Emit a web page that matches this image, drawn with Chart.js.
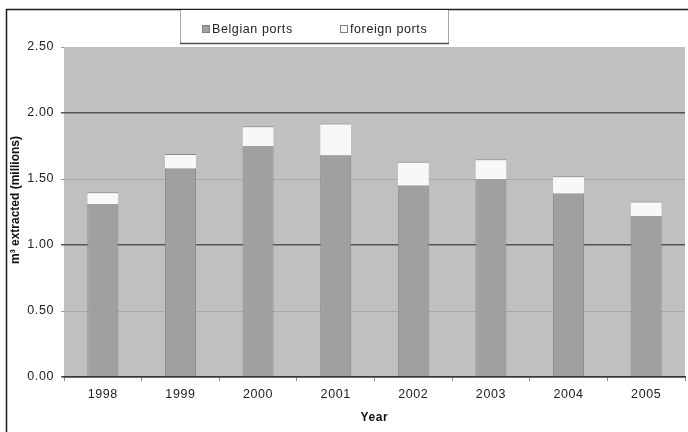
<!DOCTYPE html>
<html>
<head>
<meta charset="utf-8">
<script src="https://cdn.jsdelivr.net/npm/chart.js@4.4.1/dist/chart.umd.min.js"></script>
<style>
  html, body { margin: 0; padding: 0; background: #ffffff; }
  canvas { display: block; }
</style>
</head>
<body>
<canvas id="chart" width="688" height="432"></canvas>
<script>
// Dredged volume per year, split by port of discharge (millions of m³)
const years = ['1998', '1999', '2000', '2001', '2002', '2003', '2004', '2005'];
const belgianPorts = [1.31, 1.58, 1.75, 1.68, 1.45, 1.50, 1.39, 1.22];
const foreignPorts = [0.09, 0.11, 0.15, 0.24, 0.18, 0.15, 0.13, 0.11];
const seriesNames = ['Belgian ports', 'foreign ports'];
const yTickValues = [0, 0.5, 1, 1.5, 2, 2.5];
const yTitle = 'm³ extracted (millions)';
const xTitle = 'Year';

const FONT = "'Liberation Sans', Arial, Helvetica, sans-serif";
const WIDE = '0.6px';

// Grey plot background, outer frame, framed legend and rotated y title
const decorations = {
  id: 'decorations',
  beforeDraw(chart) {
    const { ctx, chartArea: a } = chart;
    ctx.save();
    ctx.fillStyle = '#ffffff';
    ctx.fillRect(0, 0, chart.width, chart.height);
    ctx.fillStyle = '#c0c0c0';
    ctx.fillRect(a.left, a.top, a.right - a.left, a.bottom - a.top);
    ctx.restore();
    // slightly widened lettering for the axis labels
    ctx.letterSpacing = WIDE;
  },
  afterDraw(chart) {
    const { ctx } = chart;
    ctx.save();

    // outer frame (top and left edges)
    ctx.strokeStyle = '#1a1a1a';
    ctx.lineWidth = 1.5;
    ctx.beginPath();
    ctx.moveTo(6.5, chart.height);
    ctx.lineTo(6.5, 9.5);
    ctx.lineTo(chart.width, 9.5);
    ctx.stroke();

    // legend box
    const bx0 = 180, bx1 = 448, by0 = 10, by1 = 43;
    ctx.fillStyle = '#ffffff';
    ctx.fillRect(bx0, by0, bx1 - bx0, by1 - by0);
    ctx.strokeStyle = '#a8a8a8';
    ctx.lineWidth = 1;
    ctx.beginPath();
    ctx.moveTo(bx0 + 0.5, by0);
    ctx.lineTo(bx0 + 0.5, by1);
    ctx.moveTo(bx1 + 0.5, by0);
    ctx.lineTo(bx1 + 0.5, by1);
    ctx.stroke();
    ctx.strokeStyle = '#505050';
    ctx.lineWidth = 1.5;
    ctx.beginPath();
    ctx.moveTo(bx0, by1 + 0.5);
    ctx.lineTo(bx1 + 1, by1 + 0.5);
    ctx.stroke();

    // legend entries
    const itemX = [202, 340];
    ctx.letterSpacing = WIDE;
    ctx.font = '12.5px ' + FONT;
    ctx.textBaseline = 'middle';
    ctx.textAlign = 'left';
    chart.data.datasets.forEach((ds, i) => {
      const x = itemX[i];
      ctx.fillStyle = ds.backgroundColor;
      ctx.fillRect(x, 25.5, 7, 7);
      ctx.strokeStyle = '#808080';
      ctx.lineWidth = 1;
      ctx.strokeRect(x + 0.5, 25.5, 7, 7);
      ctx.fillStyle = '#222222';
      ctx.fillText(ds.label, x + 10, 29.5);
    });

    // y axis title
    ctx.letterSpacing = '0px';
    ctx.translate(16, 200);
    ctx.rotate(-Math.PI / 2);
    ctx.font = 'bold 12px ' + FONT;
    ctx.fillStyle = '#111111';
    ctx.textAlign = 'center';
    ctx.textBaseline = 'middle';
    ctx.fillText(yTitle, 0, 0);
    ctx.restore();
    ctx.letterSpacing = '0px';
  }
};

const gridColor = (ctx) => {
  const v = ctx.tick ? ctx.tick.value : null;
  if (v === 2.5) return 'rgba(0,0,0,0)';
  return Number.isInteger(v) ? '#555555' : '#a9a9a9';
};
const tickMarkColor = (ctx) => {
  const v = ctx.tick ? ctx.tick.value : null;
  return Number.isInteger(v) ? '#555555' : '#9a9a9a';
};

new Chart(document.getElementById('chart'), {
  type: 'bar',
  data: {
    labels: years,
    datasets: [
      {
        label: seriesNames[0],
        data: belgianPorts,
        backgroundColor: '#a0a0a0',
        borderColor: '#8a8a8a',
        borderWidth: { left: 1, right: 1, top: 0, bottom: 0 },
        borderSkipped: false,
        categoryPercentage: 1,
        barPercentage: 0.4
      },
      {
        label: seriesNames[1],
        data: foreignPorts,
        backgroundColor: '#f8f8f8',
        borderColor: '#8a8a8a',
        borderWidth: { left: 0, right: 0, top: 1, bottom: 0 },
        borderSkipped: false,
        categoryPercentage: 1,
        barPercentage: 0.4
      }
    ]
  },
  options: {
    responsive: false,
    animation: false,
    devicePixelRatio: 1,
    layout: { padding: { left: 7, top: 47, right: 3, bottom: 0 } },
    plugins: {
      legend: { display: false },
      tooltip: { enabled: false }
    },
    scales: {
      x: {
        stacked: true,
        afterFit: (s) => { s.height = 55; },
        border: { display: true, color: '#333333', width: 1.5 },
        grid: {
          display: true,
          drawOnChartArea: false,
          drawTicks: true,
          tickLength: 4,
          color: '#8a8a8a'
        },
        ticks: {
          color: '#222222',
          font: { family: FONT, size: 12.5 },
          padding: 6,
          maxRotation: 0
        },
        title: {
          display: true,
          text: xTitle,
          color: '#111111',
          font: { family: FONT, size: 12, weight: 'bold' },
          padding: { top: 7, bottom: 7 }
        }
      },
      y: {
        stacked: true,
        min: 0,
        max: 2.5,
        afterFit: (s) => { s.width = 57; },
        afterBuildTicks: (s) => { s.ticks = yTickValues.map((v) => ({ value: v })); },
        border: { display: false },
        grid: {
          color: gridColor,
          tickColor: tickMarkColor,
          lineWidth: (ctx) => (ctx.tick && Number.isInteger(ctx.tick.value) ? 1.5 : 1),
          drawTicks: true,
          tickLength: 3
        },
        ticks: {
          color: '#222222',
          font: { family: FONT, size: 12.5 },
          padding: 7,
          callback: (v) => Number(v).toFixed(2)
        }
      }
    }
  },
  plugins: [decorations]
});
</script>
</body>
</html>
